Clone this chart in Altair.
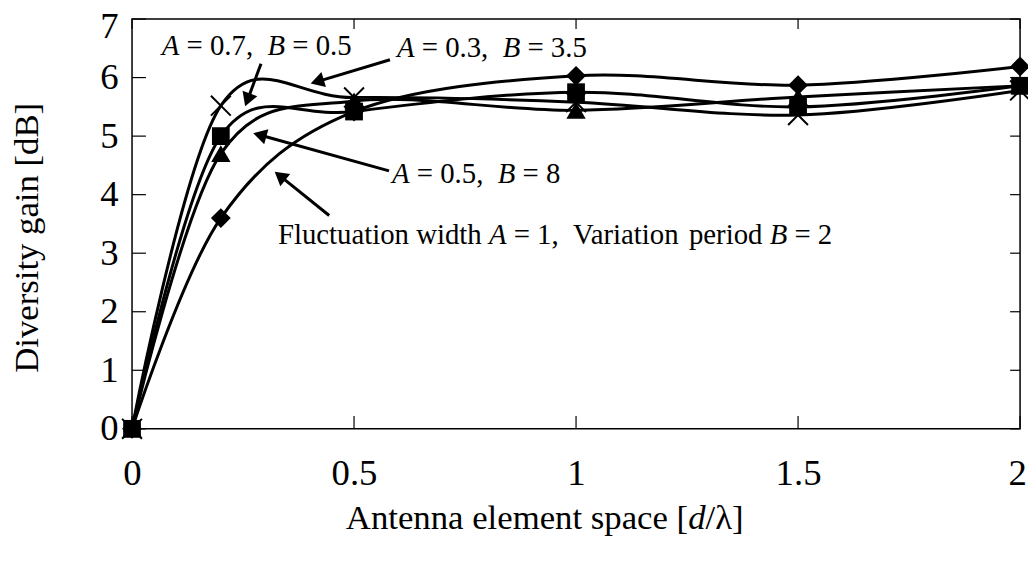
import math
import altair as alt
import pandas as pd

# ---------------- data ----------------
x_vals = [0, 0.2, 0.5, 1.0, 1.5, 2.0]
diamond_y = [0, 3.6, 5.42, 6.03, 5.87, 6.19]    # Fluctuation width A = 1, Variation period B = 2
square_y = [0, 5.0, 5.42, 5.75, 5.5, 5.86]      # A = 0.7, B = 0.5
triangle_y = [0, 4.7, 5.6, 5.44, 5.67, 5.86]    # A = 0.5, B = 8
cross_y = [0, 5.52, 5.66, 5.58, 5.36, 5.78]     # A = 0.3, B = 3.5
series_names = ["A=1,B=2", "A=0.7,B=0.5", "A=0.5,B=8", "A=0.3,B=3.5"]

x_ticks = [0, 0.5, 1, 1.5, 2]
y_ticks = [0, 1, 2, 3, 4, 5, 6, 7]

# annotation arrows (tail -> tip), data units
arrow_x0 = [0.2905, 0.581, 0.5788, 0.444]
arrow_y0 = [6.237, 6.305, 4.407, 3.644]
arrow_x1 = [0.2547, 0.402, 0.2726, 0.321]
arrow_y1 = [5.508, 5.898, 5.051, 4.395]

# annotation labels: left x, centre y (data units) and segments (text, italic)
label_x = [0.067, 0.5966, 0.5855, 0.3285]
label_y = [6.54, 6.51, 4.36, 3.31]
label_segments = [
    [("A", True), (" = 0.7,  ", False), ("B", True), (" = 0.5", False)],
    [("A", True), (" = 0.3,  ", False), ("B", True), (" = 3.5", False)],
    [("A", True), (" = 0.5,  ", False), ("B", True), (" = 8", False)],
    [("Fluctuation width ", False), ("A", True), (" = 1,  Variation period ", False),
     ("B", True), (" = 2", False)],
]
x_title_segments = [("Antenna element space [", False), ("d", True), ("/\u03bb]", False)]
x_title_center = 0.932

# ---------------- layout ----------------
W, H = 895, 413
FONT = "Liberation Serif"
ANN_FS = 29
TITLE_FS = 35
LABEL_FS = 37

W_REG = {' ': 250, ',': 250, '.': 250, '=': 564, 'F': 556, 'l': 278, 'u': 500,
         'c': 444, 't': 278, 'a': 444, 'i': 278, 'o': 500, 'n': 500, 'w': 722, 'd': 500,
         'h': 500, 'V': 722, 'r': 333, 'p': 500, 'e': 444, 'A': 722, 'm': 778, 's': 389,
         '[': 333, ']': 333, '/': 278, '\u03bb': 550}
for ch in "0123456789":
    W_REG[ch] = 500
W_IT = {'A': 611, 'B': 611, 'd': 500}


def seg_width(text, italic, fs):
    table = W_IT if italic else W_REG
    return sum(table.get(c, W_REG.get(c, 500)) for c in text) * fs / 1000.0


px_per_x = W / 2.0
px_per_y = H / 7.0

# series table
rows = []
for name, ys in zip(series_names, [diamond_y, square_y, triangle_y, cross_y]):
    for xv, yv in zip(x_vals, ys):
        rows.append({"x": xv, "y": yv, "s": name})
df = pd.DataFrame(rows)

xs = alt.Scale(domain=[0, 2], nice=False, zero=False)
ys_ = alt.Scale(domain=[0, 7], nice=False, zero=False)


def X(f):
    return alt.X(f, scale=xs)


def Y(f):
    return alt.Y(f, scale=ys_)


lines = alt.Chart(df).mark_line(
    interpolate="cardinal", color="black", strokeWidth=3
).encode(
    x=alt.X("x:Q", scale=xs, axis=alt.Axis(
        values=x_ticks, format="~g", title=None, grid=False, ticks=False, tickSize=0,
        domain=False, labelFont=FONT, labelFontSize=LABEL_FS, labelColor="black",
        labelPadding=27, labelFlush=False,
        labelOffset=alt.expr("datum.value == 2 ? -3 : 0"))),
    y=alt.Y("y:Q", scale=ys_, axis=alt.Axis(
        values=y_ticks, format="~g", title="Diversity gain [dB]", grid=False, ticks=False,
        tickSize=0, domain=False, labelFont=FONT, labelFontSize=LABEL_FS,
        labelColor="black", labelPadding=14, labelFlush=False,
        labelOffset=alt.expr("datum.value == 7 ? 8 : 0"),
        titleFont=FONT, titleFontSize=35, titleFontWeight="normal",
        titleColor="black", titleX=-106, titleY=220, titleAngle=270,
        titleBaseline="middle", titleAlign="center")),
    detail="s:N",
)

marker_specs = [
    ("A=1,B=2", "diamond", 400, True),
    ("A=0.7,B=0.5", "square", 320, True),
    ("A=0.5,B=8", "triangle-up", 380, True),
    ("A=0.3,B=3.5", "M-1,-1L1,1M1,-1L-1,1", 400, False),
]
markers = []
for name, shape, size, filled in marker_specs:
    if filled:
        mk = alt.Chart(df[df.s == name]).mark_point(
            shape=shape, size=size, filled=True, color="black", opacity=1)
    else:
        mk = alt.Chart(df[df.s == name]).mark_point(
            shape=shape, size=size, filled=False, color="black", strokeWidth=2, opacity=1)
    markers.append(mk.encode(x=X("x:Q"), y=Y("y:Q")))

# inward tick marks on all four sides
tick_y_df = pd.DataFrame({"v": y_ticks})
tick_x_df = pd.DataFrame({"v": x_ticks})
tick_left = alt.Chart(tick_y_df).mark_rule(color="black", strokeWidth=1.2).encode(
    y=Y("v:Q"), x=alt.value(0), x2=alt.value(14))
tick_right = alt.Chart(tick_y_df).mark_rule(color="black", strokeWidth=1.2).encode(
    y=Y("v:Q"), x=alt.value(W - 10), x2=alt.value(W))
tick_top = alt.Chart(tick_x_df).mark_rule(color="black", strokeWidth=1.2).encode(
    x=X("v:Q"), y=alt.value(0), y2=alt.value(10))
tick_bottom = alt.Chart(tick_x_df).mark_rule(color="black", strokeWidth=1.2).encode(
    x=X("v:Q"), y=alt.value(H - 13), y2=alt.value(H))

# arrows
HEAD = 7.0
arr_rows = []
for x0, y0, x1, y1 in zip(arrow_x0, arrow_y0, arrow_x1, arrow_y1):
    dxp = (x1 - x0) * px_per_x
    dyp = -(y1 - y0) * px_per_y
    L = math.hypot(dxp, dyp)
    ux, uy = dxp / L, dyp / L
    hx = x1 - ux * HEAD / px_per_x
    hy = y1 + uy * HEAD / px_per_y
    ang = math.degrees(math.atan2(dxp, -dyp)) % 360
    arr_rows.append({"x0": x0, "y0": y0, "hx": hx, "hy": hy, "ang": ang})
arr_df = pd.DataFrame(arr_rows)
arrow_lines = alt.Chart(arr_df).mark_rule(color="black", strokeWidth=3).encode(
    x=X("x0:Q"), y=Y("y0:Q"), x2="hx:Q", y2="hy:Q")
arrow_heads = alt.Chart(arr_df).mark_point(
    shape="triangle-up", size=250, filled=True, color="black", opacity=1).encode(
    x=X("hx:Q"), y=Y("hy:Q"), angle=alt.Angle("ang:Q", scale=None))


def place_words(segs, fs, start_px):
    """Split styled segments into words; return (word, italic, left offset px)."""
    out = []
    cum = start_px
    for t, it in segs:
        word = ""
        word_start = cum
        for ch in t:
            if ch == " ":
                if word:
                    out.append((word, it, word_start))
                    word = ""
                cum += seg_width(" ", False, fs)
            else:
                if not word:
                    word_start = cum
                word += ch
                cum += seg_width(ch, it, fs)
        if word:
            out.append((word, it, word_start))
    return out


# annotation texts (mixed regular / italic)
txt_rows = []
for lx, ly, segs in zip(label_x, label_y, label_segments):
    for word, it, off in place_words(segs, ANN_FS, 0.0):
        txt_rows.append({"x": lx + off / px_per_x, "y": ly, "t": word, "it": it})
txt_df = pd.DataFrame(txt_rows)
ann_reg = alt.Chart(txt_df[~txt_df.it]).mark_text(
    align="left", baseline="middle", font=FONT, fontSize=ANN_FS, color="black").encode(
    x=X("x:Q"), y=Y("y:Q"), text="t:N")
ann_it = alt.Chart(txt_df[txt_df.it]).mark_text(
    align="left", baseline="middle", font=FONT, fontSize=ANN_FS, fontStyle="italic",
    color="black").encode(
    x=X("x:Q"), y=Y("y:Q"), text="t:N")

# x-axis title (mixed style)
total = sum(seg_width(t, it, TITLE_FS) for t, it in x_title_segments)
xt_df = pd.DataFrame([{"x": x_title_center + off / px_per_x, "t": word, "it": it}
                      for word, it, off in place_words(x_title_segments, TITLE_FS,
                                                       -total / 2)])
xt_reg = alt.Chart(xt_df[~xt_df.it]).mark_text(
    align="left", baseline="middle", font=FONT, fontSize=TITLE_FS, color="black").encode(
    x=X("x:Q"), y=alt.value(H + 90), text="t:N")
xt_it = alt.Chart(xt_df[xt_df.it]).mark_text(
    align="left", baseline="middle", font=FONT, fontSize=TITLE_FS, fontStyle="italic",
    color="black").encode(
    x=X("x:Q"), y=alt.value(H + 90), text="t:N")

chart = alt.layer(
    lines, *markers, tick_left, tick_right, tick_top, tick_bottom,
    arrow_lines, arrow_heads, ann_reg, ann_it, xt_reg, xt_it
).properties(
    width=W, height=H,
    padding={"left": 125, "top": 9, "right": 8, "bottom": 120},
    autosize=alt.AutoSizeParams(type="none"),
    background="white",
).configure_view(stroke="black", strokeWidth=1.5)

chart.save("out.html", embed_options={"renderer": "svg", "actions": False})
